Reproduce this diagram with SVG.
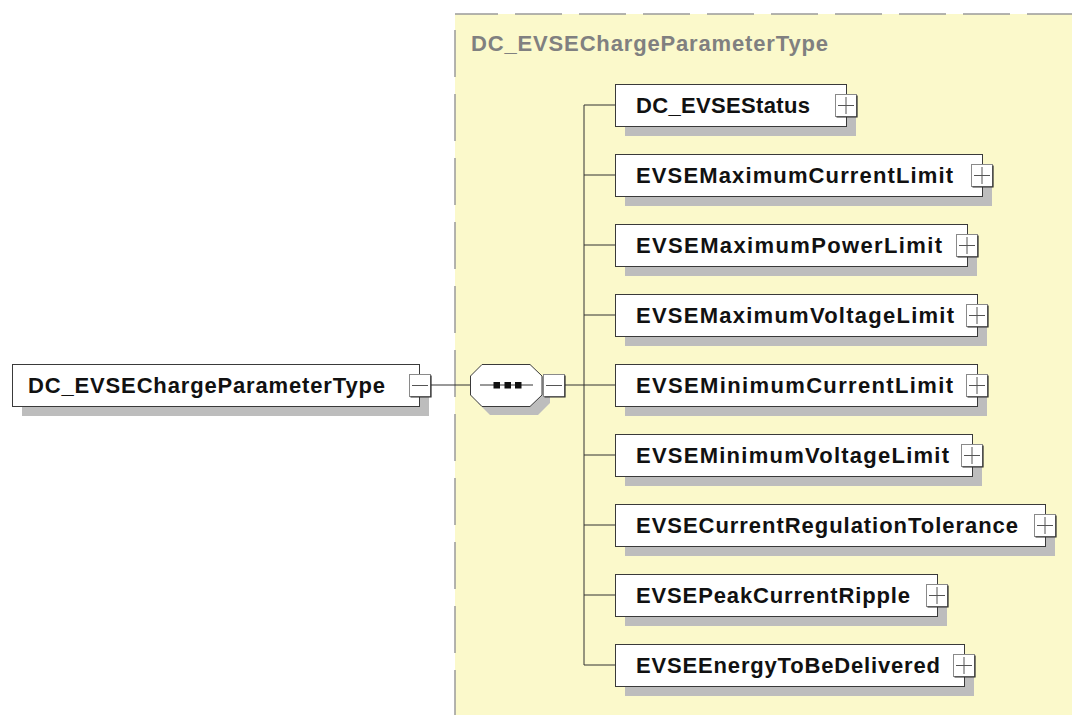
<svg xmlns="http://www.w3.org/2000/svg" xmlns:xlink="http://www.w3.org/1999/xlink" width="1072" height="715" viewBox="0 0 1072 715">
<style>
.bg{fill:#fbf9cb}
.border{fill:none;stroke:#9a9a9a;stroke-width:1.5;stroke-dasharray:47 17}
.shadow{fill:#bdbdbd}
.box{fill:#fff;stroke:#3a3a3a;stroke-width:1}
.lbl{font-family:"Liberation Sans",Arial,sans-serif;font-weight:bold;font-size:22px;fill:#111}
.title{font-family:"Liberation Sans",Arial,sans-serif;font-weight:bold;font-size:22px;fill:#808080}
.conn{fill:none;stroke:#333;stroke-width:1}
.bf{fill:#fff;stroke:#8a8a8a;stroke-width:1}
.be{fill:none;stroke:#2a2a2a;stroke-width:1.2}
.bs{fill:none;stroke:#555;stroke-width:1}
</style>
<defs>
<g id="plus">
<rect class="bf" x="0.5" y="0.5" width="21" height="22"/>
<path class="be" d="M22 1.5V23H1.5"/>
<path class="bs" d="M3 11.5H19M11 3V20"/>
</g>
<g id="minus">
<rect class="bf" x="0.5" y="0.5" width="21" height="22"/>
<path class="be" d="M22 1.5V23H1.5"/>
<path class="bs" d="M3 11.5H19"/>
</g>
</defs>
<rect width="1072" height="715" fill="#fff"/>
<g id="complexType">
<rect class="bg" x="455" y="14" width="617" height="701"/>
<path class="border" d="M455 14H1072" stroke-dashoffset="4"/>
<path class="border" d="M455 14V715" stroke-dashoffset="-16"/>
<text class="title" x="471" y="51" textLength="357" lengthAdjust="spacing">DC_EVSEChargeParameterType</text>
</g>
<g id="connectors">
<path class="conn" d="M430 385H470"/>
<path class="conn" d="M565 385H584"/>
<path class="conn" d="M584 105V665"/>
<path class="conn" d="M584 105H615M584 175H615M584 245H615M584 315H615M584 385H615M584 455H615M584 525H615M584 595H615M584 665H615"/>
</g>
<g id="root">
<rect class="shadow" x="22" y="374" width="407" height="42"/>
<rect class="box" x="12.5" y="364.5" width="407" height="42"/>
<text class="lbl" x="28" y="393" textLength="357" lengthAdjust="spacing">DC_EVSEChargeParameterType</text>
<use xlink:href="#minus" x="409" y="374"/>
</g>
<g id="sequence">
<polygon class="shadow" points="490,372 538,372 550,384 550,403 538,415 490,415 478,403 478,384"/>
<polygon class="box" points="482,364.5 530,364.5 542,376 542,395 530,406.5 482,406.5 470.5,395 470.5,376"/>
<path class="conn" d="M480 385H533"/>
<rect x="493.5" y="382" width="6.5" height="6.5" fill="#111"/>
<rect x="504.5" y="382" width="6.5" height="6.5" fill="#111"/>
<rect x="515" y="382" width="6.5" height="6.5" fill="#111"/>
<use xlink:href="#minus" x="543" y="374"/>
</g>
<g id="n0">
<rect class="shadow" x="625" y="94" width="231" height="42"/>
<rect class="box" x="615.5" y="84.5" width="231" height="42"/>
<text class="lbl" x="636" y="113" textLength="174" lengthAdjust="spacing">DC_EVSEStatus</text>
<use xlink:href="#plus" x="835" y="94"/>
</g>
<g id="n1">
<rect class="shadow" x="625" y="164" width="367" height="42"/>
<rect class="box" x="615.5" y="154.5" width="367" height="42"/>
<text class="lbl" x="636" y="183" textLength="317" lengthAdjust="spacing">EVSEMaximumCurrentLimit</text>
<use xlink:href="#plus" x="971" y="164"/>
</g>
<g id="n2">
<rect class="shadow" x="625" y="234" width="352" height="42"/>
<rect class="box" x="615.5" y="224.5" width="352" height="42"/>
<text class="lbl" x="636" y="253" textLength="306" lengthAdjust="spacing">EVSEMaximumPowerLimit</text>
<use xlink:href="#plus" x="956" y="234"/>
</g>
<g id="n3">
<rect class="shadow" x="625" y="304" width="362" height="42"/>
<rect class="box" x="615.5" y="294.5" width="362" height="42"/>
<text class="lbl" x="636" y="323" textLength="318" lengthAdjust="spacing">EVSEMaximumVoltageLimit</text>
<use xlink:href="#plus" x="966" y="304"/>
</g>
<g id="n4">
<rect class="shadow" x="625" y="374" width="362" height="42"/>
<rect class="box" x="615.5" y="364.5" width="362" height="42"/>
<text class="lbl" x="636" y="393" textLength="317" lengthAdjust="spacing">EVSEMinimumCurrentLimit</text>
<use xlink:href="#plus" x="966" y="374"/>
</g>
<g id="n5">
<rect class="shadow" x="625" y="444" width="357" height="42"/>
<rect class="box" x="615.5" y="434.5" width="357" height="42"/>
<text class="lbl" x="636" y="463" textLength="313" lengthAdjust="spacing">EVSEMinimumVoltageLimit</text>
<use xlink:href="#plus" x="961" y="444"/>
</g>
<g id="n6">
<rect class="shadow" x="625" y="514" width="430" height="42"/>
<rect class="box" x="615.5" y="504.5" width="430" height="42"/>
<text class="lbl" x="636" y="533" textLength="382" lengthAdjust="spacing">EVSECurrentRegulationTolerance</text>
<use xlink:href="#plus" x="1034" y="514"/>
</g>
<g id="n7">
<rect class="shadow" x="625" y="584" width="322" height="42"/>
<rect class="box" x="615.5" y="574.5" width="322" height="42"/>
<text class="lbl" x="636" y="603" textLength="274" lengthAdjust="spacing">EVSEPeakCurrentRipple</text>
<use xlink:href="#plus" x="926" y="584"/>
</g>
<g id="n8">
<rect class="shadow" x="625" y="654" width="349" height="42"/>
<rect class="box" x="615.5" y="644.5" width="349" height="42"/>
<text class="lbl" x="636" y="673" textLength="304" lengthAdjust="spacing">EVSEEnergyToBeDelivered</text>
<use xlink:href="#plus" x="953" y="654"/>
</g>
</svg>
